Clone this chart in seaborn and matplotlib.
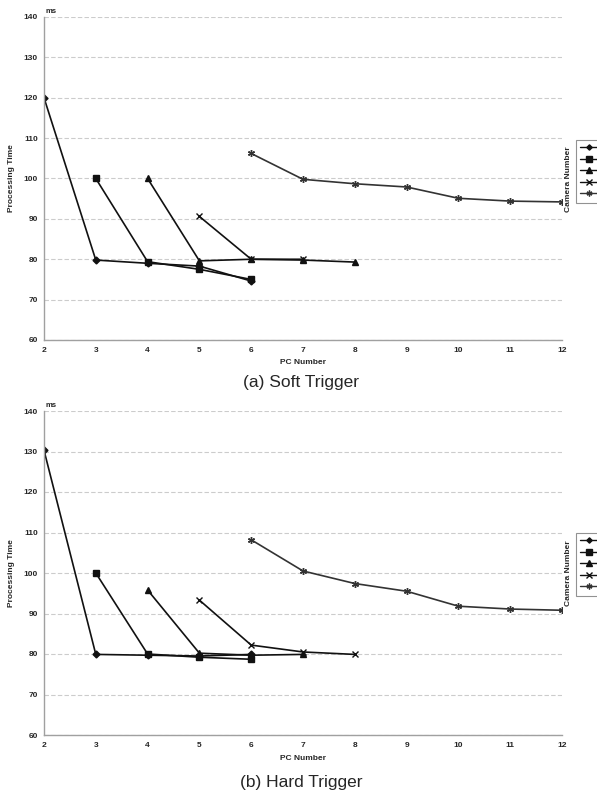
import matplotlib
matplotlib.use("Agg")
import matplotlib.pyplot as plt
import seaborn as sns
import pandas as pd
from matplotlib.lines import Line2D

sns.set_style("white")
plt.rcParams['font.family'] = ['Liberation Sans', 'DejaVu Sans']

# ---- data ----
camera_labels = ["1", "2", "3", "4", "5"]
pc_ticks = [2, 3, 4, 5, 6, 7, 8, 9, 10, 11, 12]
y_ticks = [60, 70, 80, 90, 100, 110, 120, 130, 140]

# (a) Soft Trigger
soft_pc_1 = [2, 3, 4, 5, 6]
soft_t_1 = [120.0, 79.8, 79.0, 78.3, 74.6]
soft_pc_2 = [3, 4, 5, 6]
soft_t_2 = [100.0, 79.4, 77.5, 75.0]
soft_pc_3 = [4, 5, 6, 7, 8]
soft_t_3 = [100.0, 79.6, 80.0, 79.8, 79.3]
soft_pc_4 = [5, 6, 7]
soft_t_4 = [90.6, 80.0, 80.0]
soft_pc_5 = [6, 7, 8, 9, 10, 11, 12]
soft_t_5 = [106.2, 99.8, 98.7, 97.9, 95.1, 94.4, 94.2]

# (b) Hard Trigger
hard_pc_1 = [2, 3, 4, 5, 6]
hard_t_1 = [130.3, 79.9, 79.7, 79.5, 79.9]
hard_pc_2 = [3, 4, 5, 6]
hard_t_2 = [100.0, 80.0, 79.2, 78.7]
hard_pc_3 = [4, 5, 6, 7]
hard_t_3 = [95.8, 80.2, 79.7, 79.9]
hard_pc_4 = [5, 6, 7, 8]
hard_t_4 = [93.3, 82.2, 80.5, 79.9]
hard_pc_5 = [6, 7, 8, 9, 10, 11, 12]
hard_t_5 = [108.2, 100.5, 97.4, 95.5, 91.8, 91.1, 90.8]

soft = [(soft_pc_1, soft_t_1), (soft_pc_2, soft_t_2), (soft_pc_3, soft_t_3),
        (soft_pc_4, soft_t_4), (soft_pc_5, soft_t_5)]
hard = [(hard_pc_1, hard_t_1), (hard_pc_2, hard_t_2), (hard_pc_3, hard_t_3),
        (hard_pc_4, hard_t_4), (hard_pc_5, hard_t_5)]

markers = ['D', 's', '^', 'x', (6, 2, 0)]
msizes = [3.5, 4.5, 4.5, 4.5, 5]
lcolors = ['#111111', '#111111', '#111111', '#111111', '#333333']

W, H = 597, 798
fig = plt.figure(figsize=(W / 100, H / 100), dpi=100)


def draw(ax_rect, series, caption, cap_y, leg_top, title_y):
    left, top, right, bottom = ax_rect
    ax = fig.add_axes([left / W, 1 - bottom / H, (right - left) / W, (bottom - top) / H])
    for i, (pcs, ts) in enumerate(series):
        df = pd.DataFrame({"PC Number": pcs, "Processing Time": ts})
        sns.lineplot(data=df, x="PC Number", y="Processing Time", ax=ax,
                     color=lcolors[i], linewidth=1.2, marker=markers[i],
                     markersize=msizes[i], markeredgecolor=lcolors[i],
                     markerfacecolor=lcolors[i], markeredgewidth=1.0,
                     legend=False)
    ax.set_xlim(2, 12)
    ax.set_ylim(60, 140)
    ax.set_xticks(pc_ticks)
    ax.set_yticks(y_ticks)
    ax.set_xticklabels([str(v) for v in pc_ticks], fontsize=6, fontweight='bold')
    ax.set_yticklabels([str(v) for v in y_ticks], fontsize=6, fontweight='bold')
    ax.tick_params(axis='x', direction='in', length=3, color='#999999', pad=5)
    ax.tick_params(axis='y', direction='out', length=2.5, color='#999999', pad=2)
    ax.grid(axis='y', color='#cccccc', linestyle=(0, (4, 2)), linewidth=0.8)
    ax.grid(axis='x', visible=False)
    for s in ['top', 'right']:
        ax.spines[s].set_visible(False)
    for s in ['left', 'bottom']:
        ax.spines[s].set_color('#a0a0a0')
        ax.spines[s].set_linewidth(1.0)
    ax.set_xlabel("PC Number", fontsize=6, fontweight='bold', labelpad=4)
    ax.set_ylabel("Processing Time", fontsize=6, fontweight='bold', labelpad=6)
    ax.text(0.002, 1.006, "ms", transform=ax.transAxes, fontsize=5.5,
            fontweight='bold', ha='left', va='bottom')
    fig.text(0.505, 1 - cap_y / H, caption, fontsize=12.5, ha='center', va='center')
    handles = [Line2D([0], [0], color=lcolors[i], linewidth=1.0, marker=markers[i],
                      markersize=msizes[i] - 0.8, markeredgecolor=lcolors[i],
                      markerfacecolor=lcolors[i]) for i in range(5)]
    # the legend box runs past the figure edge in the reference; its labels are not visible
    leg = ax.legend(handles, ["" for _ in camera_labels], loc='upper left',
                    bbox_to_anchor=(576 / W, 1 - leg_top / H),
                    bbox_transform=fig.transFigure, fontsize=6,
                    frameon=True, fancybox=False, borderaxespad=0,
                    borderpad=0.5, labelspacing=0.45, handlelength=2.2,
                    handletextpad=0.5)
    leg.get_frame().set_edgecolor('#777777')
    leg.get_frame().set_linewidth(0.8)
    fig.text(569 / W, 1 - title_y / H, "Camera Number", rotation=90, fontsize=6,
             fontweight='bold', ha='center', va='center')
    return ax


draw((44, 17, 562, 340), soft, "(a) Soft Trigger", 383, 140, 179)
draw((44, 411, 562, 735), hard, "(b) Hard Trigger", 782, 533, 573)

fig.savefig("out.png", dpi=100)
